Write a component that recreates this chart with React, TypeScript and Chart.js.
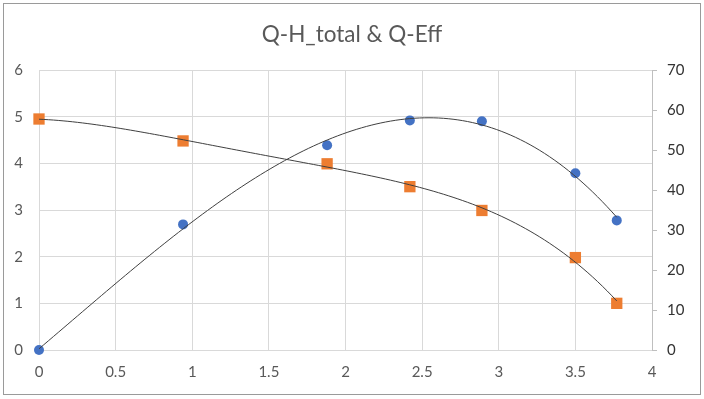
import { useEffect, useRef } from 'react';
import { Chart, registerables } from 'chart.js';

Chart.register(...registerables);

const chartTitle = 'Q-H_total & Q-Eff';
const flow = [0, 0.94, 1.88, 2.42, 2.89, 3.5, 3.77];
const headTotal = [4.95, 4.48, 3.99, 3.5, 2.99, 1.98, 1.0];
const efficiency = [0, 31.4, 51.2, 57.4, 57.2, 44.2, 32.4];
const headTrendOrder = 4;
const effTrendOrder = 3;
const trendSamples = 120;

const FONT = 'Lato, "Open Sans", "Noto Sans", sans-serif';

// least squares polynomial fit (like Excel's polynomial trendline)
function polyFit(xs: number[], ys: number[], order: number): number[] {
  const n = order + 1;
  const A: number[][] = Array.from({ length: n }, () => new Array(n + 1).fill(0));
  for (let k = 0; k < xs.length; k++) {
    for (let i = 0; i < n; i++) {
      for (let j = 0; j < n; j++) A[i][j] += Math.pow(xs[k], i + j);
      A[i][n] += ys[k] * Math.pow(xs[k], i);
    }
  }
  for (let c = 0; c < n; c++) {
    let p = c;
    for (let r = c + 1; r < n; r++) if (Math.abs(A[r][c]) > Math.abs(A[p][c])) p = r;
    [A[c], A[p]] = [A[p], A[c]];
    for (let r = 0; r < n; r++) {
      if (r === c) continue;
      const f = A[r][c] / A[c][c];
      for (let j = c; j <= n; j++) A[r][j] -= f * A[c][j];
    }
  }
  return A.map((row, i) => row[n] / A[i][i]);
}

function trend(xs: number[], ys: number[], order: number) {
  const coef = polyFit(xs, ys, order);
  const lo = Math.min(...xs);
  const hi = Math.max(...xs);
  const pts: { x: number; y: number }[] = [];
  for (let i = 0; i <= trendSamples; i++) {
    const x = lo + ((hi - lo) * i) / trendSamples;
    const y = coef.reduce((s, c, k) => s + c * Math.pow(x, k), 0);
    pts.push({ x, y });
  }
  return pts;
}

const frame = {
  id: 'frame',
  beforeDraw(chart: any) {
    const { ctx, width, height } = chart;
    ctx.save();
    ctx.fillStyle = '#ffffff';
    ctx.fillRect(0, 0, width, height);
    ctx.strokeStyle = '#9a9a9a';
    ctx.lineWidth = 1;
    ctx.strokeRect(3.5, 3.5, width - 7, height - 8);
    ctx.restore();
  },
};

export default function App() {
  const ref = useRef<HTMLCanvasElement>(null);
  useEffect(() => {
    if (!ref.current) return;
    const chart = new Chart(ref.current, {
      type: 'scatter',
      data: {
        datasets: [
          {
            type: 'line',
            data: trend(flow, headTotal, headTrendOrder),
            yAxisID: 'y',
            borderColor: '#404040',
            borderWidth: 1,
            pointRadius: 0,
            fill: false,
            order: 0,
          } as any,
          {
            type: 'line',
            data: trend(flow, efficiency, effTrendOrder),
            yAxisID: 'y1',
            borderColor: '#404040',
            borderWidth: 1,
            pointRadius: 0,
            fill: false,
            order: 0,
          } as any,
          {
            label: 'H_total',
            data: flow.map((x, i) => ({ x, y: headTotal[i] })),
            yAxisID: 'y',
            pointStyle: 'rect',
            pointRadius: 8,
            backgroundColor: '#ED7D31',
            borderColor: '#ED7D31',
            borderWidth: 0,
            clip: false,
            order: 1,
          } as any,
          {
            label: 'Eff',
            data: flow.map((x, i) => ({ x, y: efficiency[i] })),
            yAxisID: 'y1',
            pointStyle: 'circle',
            pointRadius: 5,
            backgroundColor: '#4472C4',
            borderColor: '#4472C4',
            borderWidth: 0,
            clip: false,
            order: 1,
          } as any,
        ],
      },
      options: {
        animation: false,
        responsive: false,
        devicePixelRatio: 1,
        layout: { padding: 0 },
        plugins: {
          legend: { display: false },
          tooltip: { enabled: false },
          title: {
            display: true,
            text: chartTitle,
            color: '#595959',
            font: { family: FONT, size: 22.5, weight: 'normal' },
            padding: { top: 21, bottom: 22 },
          },
        },
        scales: {
          x: {
            type: 'linear',
            min: 0,
            max: 4,
            ticks: {
              stepSize: 0.5,
              color: '#595959',
              font: { family: FONT, size: 15 },
              padding: 13,
              callback: (v: any) => String(Number(v)),
            },
            grid: { color: '#d9d9d9', drawTicks: false },
            border: { color: '#d9d9d9' },
            afterFit: (s: any) => { s.height = 49; },
          },
          y: {
            position: 'left',
            min: 0,
            max: 6,
            ticks: { stepSize: 1, color: '#595959', font: { family: FONT, size: 15 }, padding: 16 },
            grid: { color: '#d9d9d9', drawTicks: false },
            border: { color: '#d9d9d9' },
            afterFit: (s: any) => { s.width = 39; },
          },
          y1: {
            position: 'right',
            min: 0,
            max: 70,
            ticks: { stepSize: 10, color: '#333333', font: { family: FONT, size: 15 }, padding: 10 },
            grid: { drawOnChartArea: false, drawTicks: true, tickLength: 5, color: '#bfbfbf' },
            border: { color: '#bfbfbf' },
            afterFit: (s: any) => { s.width = 52; },
          },
        },
      },
      plugins: [frame],
    });
    return () => chart.destroy();
  }, []);
  return (
    <div style={{ position: 'absolute', left: 0, top: 0, width: 704, height: 399, background: '#fff' }}>
      <canvas ref={ref} width={704} height={399} />
    </div>
  );
}
